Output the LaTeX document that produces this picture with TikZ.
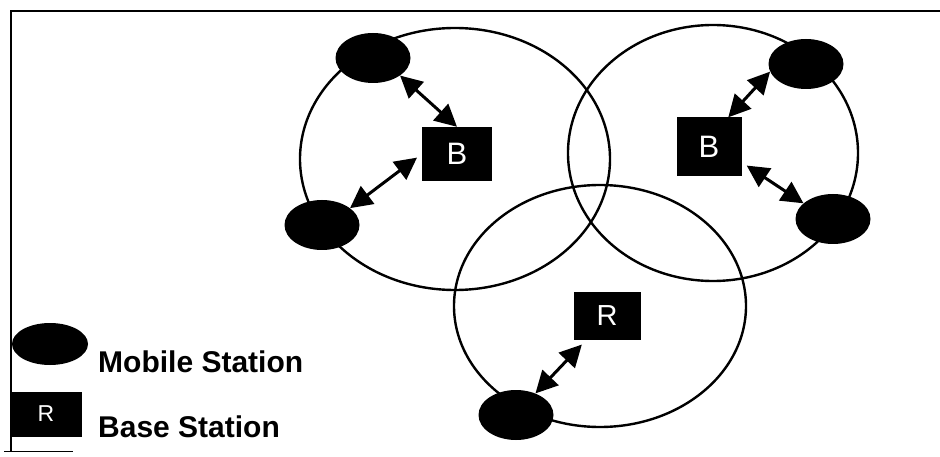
\documentclass[tikz,border=0pt]{standalone}
\usepackage{fontspec}
\setmainfont{Liberation Sans}
\usetikzlibrary{shapes.geometric,arrows.meta}
\begin{document}
\begin{tikzpicture}[x=1pt,y=-1pt,
  cell/.style={line width=2.4pt},
  mobile/.style={ellipse,fill=black,inner sep=0pt,minimum width=75pt,minimum height=50pt},
  base/.style={rectangle,fill=black,inner sep=0pt,text=white,font=\fontsize{31}{31}\selectfont},
  link/.style={line width=3pt,>={Triangle[length=22pt,width=22pt]},<->},
  legendtext/.style={anchor=base west,inner sep=0pt,font=\fontsize{30}{30}\selectfont\bfseries},
  frame/.style={line width=2.4pt}]
\useasboundingbox (0,0) rectangle (940,457);

% frame
\draw[frame] (940,11) -- (11,11) -- (11,452);
\draw[line width=1pt] (4,451) -- (73,451);

% coverage cells
\draw[cell] (455,159) ellipse [x radius=155pt, y radius=131pt];
\draw[cell] (713,153) ellipse [x radius=145pt, y radius=128pt];
\draw[cell] (600,306) ellipse [x radius=146pt, y radius=121pt];

% mobile stations
\node[mobile] (ms1) at (373,58) {};
\node[mobile] (ms2) at (322,225) {};
\node[mobile] (ms3) at (806,64) {};
\node[mobile] (ms4) at (833,219) {};
\node[mobile] (ms5) at (516,415) {};

% base stations
\node[base,minimum width=70pt,minimum height=54pt] (bs1) at (457,154) {B};
\node[base,minimum width=65pt,minimum height=59pt] (bs2) at (709,147) {B};
\node[base,minimum width=67pt,minimum height=48pt,font=\fontsize{29}{29}\selectfont] (bs3) at (607,316) {R};

% radio links
\draw[link] (ms1.-33) -- (bs1.north);
\draw[link,shorten <=6pt] (bs1.west) -- (ms2.31);
\draw[link] (ms3.192) -- (bs2.57);
\draw[link,shorten <=6pt] (bs2.-25) -- (ms4.152);
\draw[link,shorten <=6pt] (bs3.229) -- (ms5.48);

% legend
\node[mobile,minimum width=76pt,minimum height=42pt] (legms) at (50,344) {};
\node[legendtext] (legmstext) at (98,372) {Mobile Station};
\node[base,minimum width=72pt,minimum height=45pt,font=\fontsize{23}{23}\selectfont] (legbs) at (46,414) {R};
\node[legendtext] (legbstext) at (98,437) {Base Station};
\end{tikzpicture}
\end{document}
